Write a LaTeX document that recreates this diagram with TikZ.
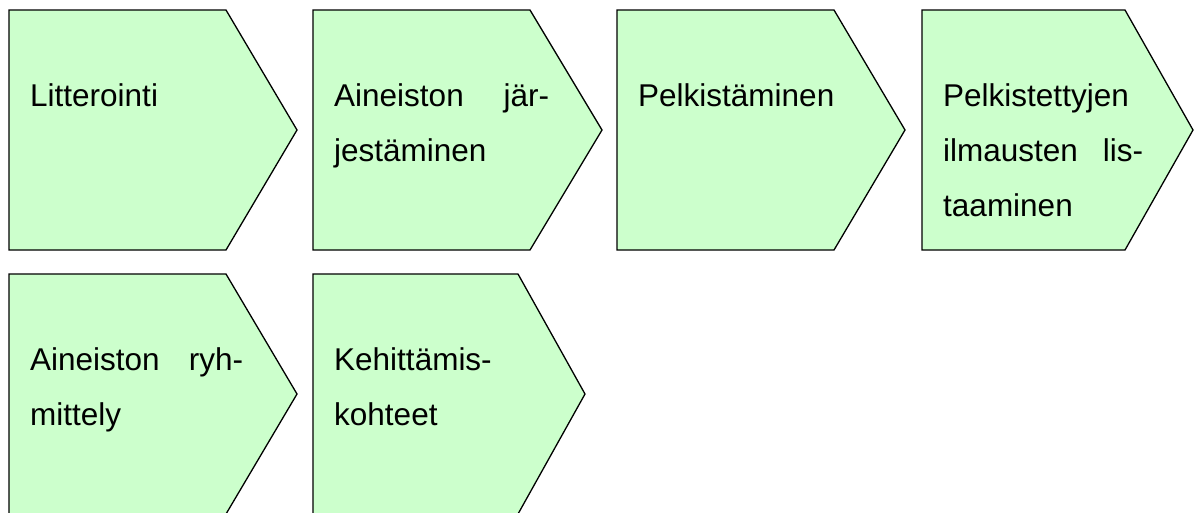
\documentclass[tikz,border=0pt]{standalone}
\usepackage{fontspec}
\setmainfont{Liberation Sans}
\definecolor{chevfill}{HTML}{CCFFCC}
\tikzset{
  chev/.style={draw=black, fill=chevfill, line width=1.3pt, line join=miter},
  lbl/.style={anchor=base west, inner sep=0pt, font=\fontsize{31.5}{55}\selectfont},
}
% #1 name of the text anchor, #2 left edge, #3 start of the point,
% #4 tip of the point, #5 top edge (240 high, tip at mid height)
\newcommand\chevron[5]{%
  \draw[chev] (#2,#5) -- (#3,#5) -- (#4,#5+120) -- (#3,#5+240)
    -- (#2,#5+240) -- cycle;
  \coordinate (#1) at (#2+21,#5+96.5);
}
\begin{document}
\begin{tikzpicture}[x=1pt,y=-1pt]
  \useasboundingbox (0,0) rectangle (1198,512);
  \clip (0,0) rectangle (1198,512);

  % first row
  \chevron{c1}{9}{226}{297}{10}
  \chevron{c2}{313}{530}{602}{10}
  \chevron{c3}{617}{834}{905}{10}
  \chevron{c4}{922}{1125}{1193}{10}
  % second row
  \chevron{c5}{9}{226}{297}{274}
  \chevron{c6}{313}{518}{585}{274}

  \node[lbl] (t1) at (c1) {Litterointi};

  \node[lbl] (t2a) at (c2) {\hbox to 215pt{Aineiston\hfill jär-}};
  \node[lbl] (t2b) at ([yshift=-55pt]c2) {jestäminen};

  \node[lbl] (t3) at (c3) {Pelkistäminen};

  \node[lbl] (t4a) at (c4) {Pelkistettyjen};
  \node[lbl] (t4b) at ([yshift=-55pt]c4) {\hbox to 200pt{ilmausten\hfill lis-}};
  \node[lbl] (t4c) at ([yshift=-110pt]c4) {taaminen};

  \node[lbl] (t5a) at (c5) {\hbox to 213pt{Aineiston\hfill ryh-}};
  \node[lbl] (t5b) at ([yshift=-55pt]c5) {mittely};

  \node[lbl] (t6a) at (c6) {Kehittämis-};
  \node[lbl] (t6b) at ([yshift=-55pt]c6) {kohteet};
\end{tikzpicture}
\end{document}
